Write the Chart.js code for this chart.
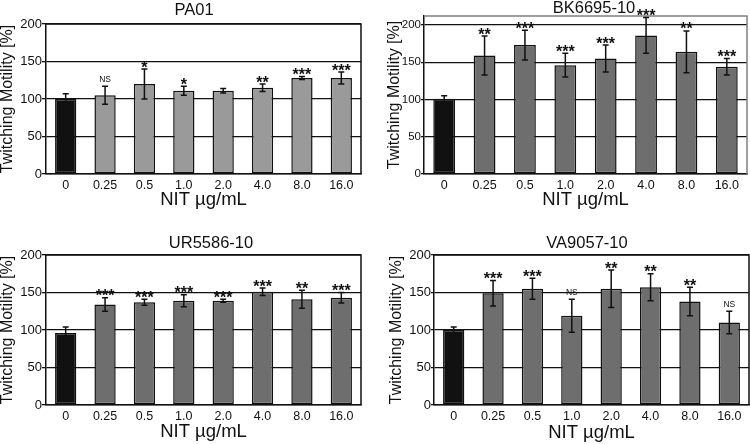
<!DOCTYPE html>
<html>
<head>
<meta charset="utf-8">
<script src="https://cdn.jsdelivr.net/npm/chart.js@4.4.1/dist/chart.umd.min.js"></script>
<style>
  html, body { margin: 0; padding: 0; background: #fff; }
  #wrap { position: relative; width: 750px; height: 444px; overflow: hidden; }
  .panel { position: absolute; width: 375px; height: 222px; }
  canvas { display: block; }
</style>
</head>
<body>
<div id="wrap"></div>
<script>
// ---------- data ----------
const concentrations = ['0', '0.25', '0.5', '1.0', '2.0', '4.0', '8.0', '16.0'];
const strainNames = ['PA01', 'BK6695-10', 'UR5586-10', 'VA9057-10'];

const pa01Mean = [100, 105, 120, 111, 111, 115, 128, 128];
const pa01Err  = [7, 12, 20, 6, 3, 5, 2, 8];
const pa01Sig  = ['', 'NS', '*', '*', '', '**', '***', '***'];

const bkMean = [101, 159, 173, 146, 155, 186, 164, 144];
const bkErr  = [4, 26, 20, 16, 18, 24, 28, 11];
const bkSig  = ['', '**', '***', '***', '***', '***', '**', '***'];

const urMean = [96, 134, 137, 139, 139, 151, 141, 143];
const urErr  = [8, 9, 4, 8, 2, 5, 12, 7];
const urSig  = ['', '***', '***', '***', '***', '***', '**', '***'];

const vaMean = [100, 149, 155, 119, 155, 157, 138, 110];
const vaErr  = [4, 17, 14, 22, 25, 18, 19, 15];
const vaSig  = ['', '***', '***', 'NS', '**', '**', '**', 'NS'];

const yTickValues = [0, 50, 100, 150, 200];
const yTitle = 'Twitching Motility [%]';
const xTitle = 'NIT \u00b5g/mL';

// ---------- layout / style (not data) ----------
const FONT = '"Liberation Sans", Arial, Helvetica, sans-serif';
Chart.defaults.font.family = FONT;
Chart.defaults.color = '#111';

const panels = [
  { name: strainNames[0], mean: pa01Mean, err: pa01Err, sig: pa01Sig, barColor: '#9a9a9a',
    left: 0, top: 0, plot: { l: 46, r: 361, t: 24, b: 174 }, yMax: 200,
    titlePos: { x: 194, y: 10.5 }, yTitlePad: 0, yTickSize: 13, tickLen: 4, xTitleY: 200, frame: '#111' },
  { name: strainNames[1], mean: bkMean, err: bkErr, sig: bkSig, barColor: '#6e6e6e',
    left: 375, top: 0, plot: { l: 49, r: 372, t: 16, b: 174 }, yMax: 212,
    titlePos: { x: 219, y: 8.5 }, yTitlePad: 12, yTickSize: 11.5, tickLen: 3, xTitleY: 200, frame: '#808080' },
  { name: strainNames[2], mean: urMean, err: urErr, sig: urSig, barColor: '#6e6e6e',
    left: 0, top: 222, plot: { l: 46, r: 361, t: 33, b: 183 }, yMax: 200,
    titlePos: { x: 211, y: 21.7 }, yTitlePad: 0, yTickSize: 13, tickLen: 4, xTitleY: 210, frame: '#111' },
  { name: strainNames[3], mean: vaMean, err: vaErr, sig: vaSig, barColor: '#6e6e6e',
    left: 375, top: 222, plot: { l: 59, r: 374, t: 33, b: 183 }, yMax: 200,
    titlePos: { x: 212, y: 21.7 }, yTitlePad: 14, yTickSize: 13, tickLen: 3, xTitleY: 211, frame: '#111' }
];

const W = 375, H = 222;
const X_TITLE_SIZE = 18.5, X_TITLE_LH = 1.2;

const decorPlugin = {
  id: 'decor',
  afterDatasetsDraw(chart) {
    const p = chart.options.plugins.decor;
    const ctx = chart.ctx;
    const ca = chart.chartArea;
    const ys = chart.scales.y;
    const meta = chart.getDatasetMeta(0);
    ctx.save();
    // frame: top and right
    ctx.strokeStyle = p.frame;
    ctx.lineWidth = 1.5;
    ctx.beginPath();
    ctx.moveTo(ca.left, ca.top);
    ctx.lineTo(ca.right, ca.top);
    ctx.lineTo(ca.right, ca.bottom);
    ctx.stroke();
    // error bars and significance marks
    ctx.strokeStyle = '#111';
    ctx.fillStyle = '#111';
    ctx.lineWidth = 1.5;
    ctx.textAlign = 'center';
    ctx.textBaseline = 'alphabetic';
    meta.data.forEach((bar, i) => {
      const m = p.mean[i], e = p.err[i];
      const x = bar.x;
      const yTop = ys.getPixelForValue(m + e);
      const yBot = ys.getPixelForValue(m - e);
      ctx.beginPath();
      ctx.moveTo(x, yTop); ctx.lineTo(x, yBot);
      ctx.moveTo(x - 3, yTop); ctx.lineTo(x + 3, yTop);
      ctx.moveTo(x - 3, yBot); ctx.lineTo(x + 3, yBot);
      ctx.stroke();
      const s = p.sig[i];
      if (s === 'NS') {
        ctx.font = '8.5px ' + FONT;
        ctx.fillText(s, x, yTop - 4);
      } else if (s) {
        ctx.font = 'bold 16px ' + FONT;
        ctx.fillText(s, x, yTop + 3.5);
      }
    });
    // panel title
    ctx.font = '16.5px ' + FONT;
    ctx.textBaseline = 'middle';
    ctx.fillText(p.title, p.titlePos.x, p.titlePos.y);
    ctx.restore();
  }
};

const wrap = document.getElementById('wrap');
panels.forEach((P) => {
  const div = document.createElement('div');
  div.className = 'panel';
  div.style.left = P.left + 'px';
  div.style.top = P.top + 'px';
  const cv = document.createElement('canvas');
  cv.width = W; cv.height = H;
  cv.style.width = W + 'px'; cv.style.height = H + 'px';
  div.appendChild(cv);
  wrap.appendChild(div);

  const xTitlePadBottom = Math.max(0, H - P.xTitleY - X_TITLE_SIZE * X_TITLE_LH / 2);

  new Chart(cv.getContext('2d'), {
    type: 'bar',
    data: {
      labels: concentrations,
      datasets: [{
        data: P.mean,
        backgroundColor: P.mean.map((v, i) => i === 0 ? '#111111' : P.barColor),
        borderColor: '#111',
        borderWidth: 1.5,
        borderSkipped: false,
        barPercentage: 0.54,
        categoryPercentage: 1.0
      }]
    },
    options: {
      responsive: false,
      devicePixelRatio: 1,
      animation: false,
      events: [],
      layout: { padding: { left: 0, top: P.plot.t, right: W - P.plot.r, bottom: 0 } },
      plugins: {
        legend: { display: false },
        tooltip: { enabled: false },
        title: { display: false },
        decor: { mean: P.mean, err: P.err, sig: P.sig, title: P.name,
                 titlePos: P.titlePos, frame: P.frame }
      },
      scales: {
        x: {
          offset: true,
          grid: { display: false, drawTicks: false, tickLength: 0 },
          border: { display: true, color: '#111', width: 1.5 },
          ticks: { font: { size: 12.5 }, color: '#111', padding: 4, maxRotation: 0 },
          title: { display: true, text: xTitle, color: '#111',
                   font: { size: X_TITLE_SIZE, lineHeight: X_TITLE_LH },
                   padding: { top: 0, bottom: xTitlePadBottom } },
          afterFit(scale) { scale.height = H - P.plot.b; }
        },
        y: {
          min: 0,
          max: P.yMax,
          afterBuildTicks(scale) { scale.ticks = yTickValues.map(v => ({ value: v })); },
          grid: { color: '#111', lineWidth: 1.3, tickLength: P.tickLen, drawTicks: true },
          border: { display: true, color: '#111', width: 1.5 },
          ticks: { font: { size: P.yTickSize }, color: '#111', padding: 0 },
          title: { display: true, text: yTitle, color: '#111',
                   font: { size: 16, lineHeight: 1.0 },
                   padding: { top: P.yTitlePad, bottom: 0 } },
          afterFit(scale) { scale.width = P.plot.l; }
        }
      }
    },
    plugins: [decorPlugin]
  });
});
</script>
</body>
</html>
